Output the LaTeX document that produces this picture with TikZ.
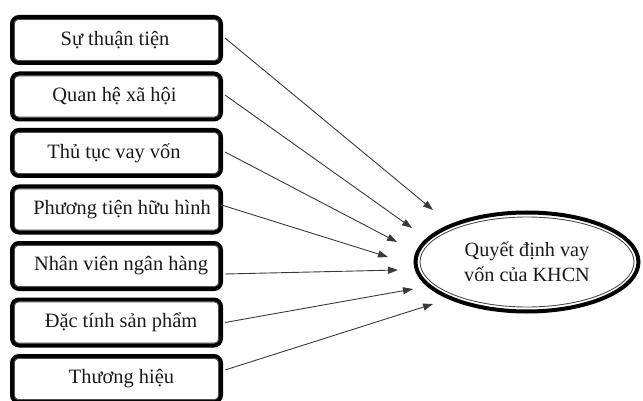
\documentclass[tikz,border=0pt]{standalone}
\usepackage{fontspec}
\setmainfont{Liberation Serif}
\usetikzlibrary{shapes.geometric,arrows.meta}
\definecolor{ink}{HTML}{1A1A1A}
\definecolor{wire}{HTML}{3A3A3A}
\tikzset{
  factorbox/.style={draw=black, line width=4.2pt, rounded corners=7pt,
    minimum width=208.8pt, minimum height=45.8pt, inner sep=0pt},
  innerline/.style={draw=black!70, line width=0.9pt, rounded corners=4pt},
  boxtext/.style={text=ink, font=\fontsize{20.4}{23}\selectfont, inner sep=0pt},
  goal/.style={ellipse, draw=black, line width=4pt, minimum width=223pt,
    minimum height=99pt, inner sep=0pt, text=ink, align=center,
    font=\fontsize{20.2}{25}\selectfont},
  link/.style={draw=wire, line width=0.9pt, -{Triangle[length=10pt,width=7pt]}},
}
\begin{document}
\begin{tikzpicture}[x=1pt,y=-1pt]
  \useasboundingbox (0,0) rectangle (643,401);
  \clip (0,0) rectangle (643,401);

  % factor boxes (thick outer frame + thin inner frame)
  \foreach \i/\top in {1/15,2/71.5,3/128,4/184.5,5/241,6/297.5,7/354}{
    \node[factorbox] (b\i) at (116.5,\top+25) {};
    \draw[innerline] ([shift={(4.4pt,-4.4pt)}]b\i.north west)
      rectangle ([shift={(-4.4pt,4.4pt)}]b\i.south east);
  }

  % factor labels
  \node[boxtext] (l1) at (115,40)    {Sự thuận tiện};
  \node[boxtext] (l2) at (114.5,96.5) {Quan hệ xã hội};
  \node[boxtext] (l3) at (114,153)   {Thủ tục vay vốn};
  \node[boxtext] (l4) at (122,209.5) {Phương tiện hữu hình};
  \node[boxtext] (l5) at (121,266)   {Nhân viên ngân hàng};
  \node[boxtext] (l6) at (121,322.5) {Đặc tính sản phẩm};
  \node[boxtext] (l7) at (121.5,379) {Thương hiệu};

  % outcome ellipse
  \node[goal] (e) at (527,262) {Quyết định vay\\vốn của KHCN};
  \draw[innerline] (e.center) ellipse [x radius=107, y radius=45];

  % arrow tips near the ellipse
  \coordinate (t1) at (433,210);
  \coordinate (t2) at (412,228);
  \coordinate (t3) at (397,242);
  \coordinate (t4) at (388,257);
  \coordinate (t5) at (398,270);
  \coordinate (t6) at (413,289);
  \coordinate (t7) at (433,304);

  % influence arrows
  \draw[link] ([shift={(2pt,2pt)}]b1.east)   -- (t1);
  \draw[link] ([shift={(2pt,1.5pt)}]b2.east) -- (t2);
  \draw[link] ([shift={(2pt,1pt)}]b3.east)   -- (t3);
  \draw[link] ([shift={(-1.5pt,4.5pt)}]b4.east) -- (t4);
  \draw[link] ([shift={(2pt,-8pt)}]b5.east)  -- (t5);
  \draw[link] ([shift={(2pt,0pt)}]b6.east)   -- (t6);
  \draw[link] ([shift={(2pt,9pt)}]b7.east)   -- (t7);
\end{tikzpicture}
\end{document}
